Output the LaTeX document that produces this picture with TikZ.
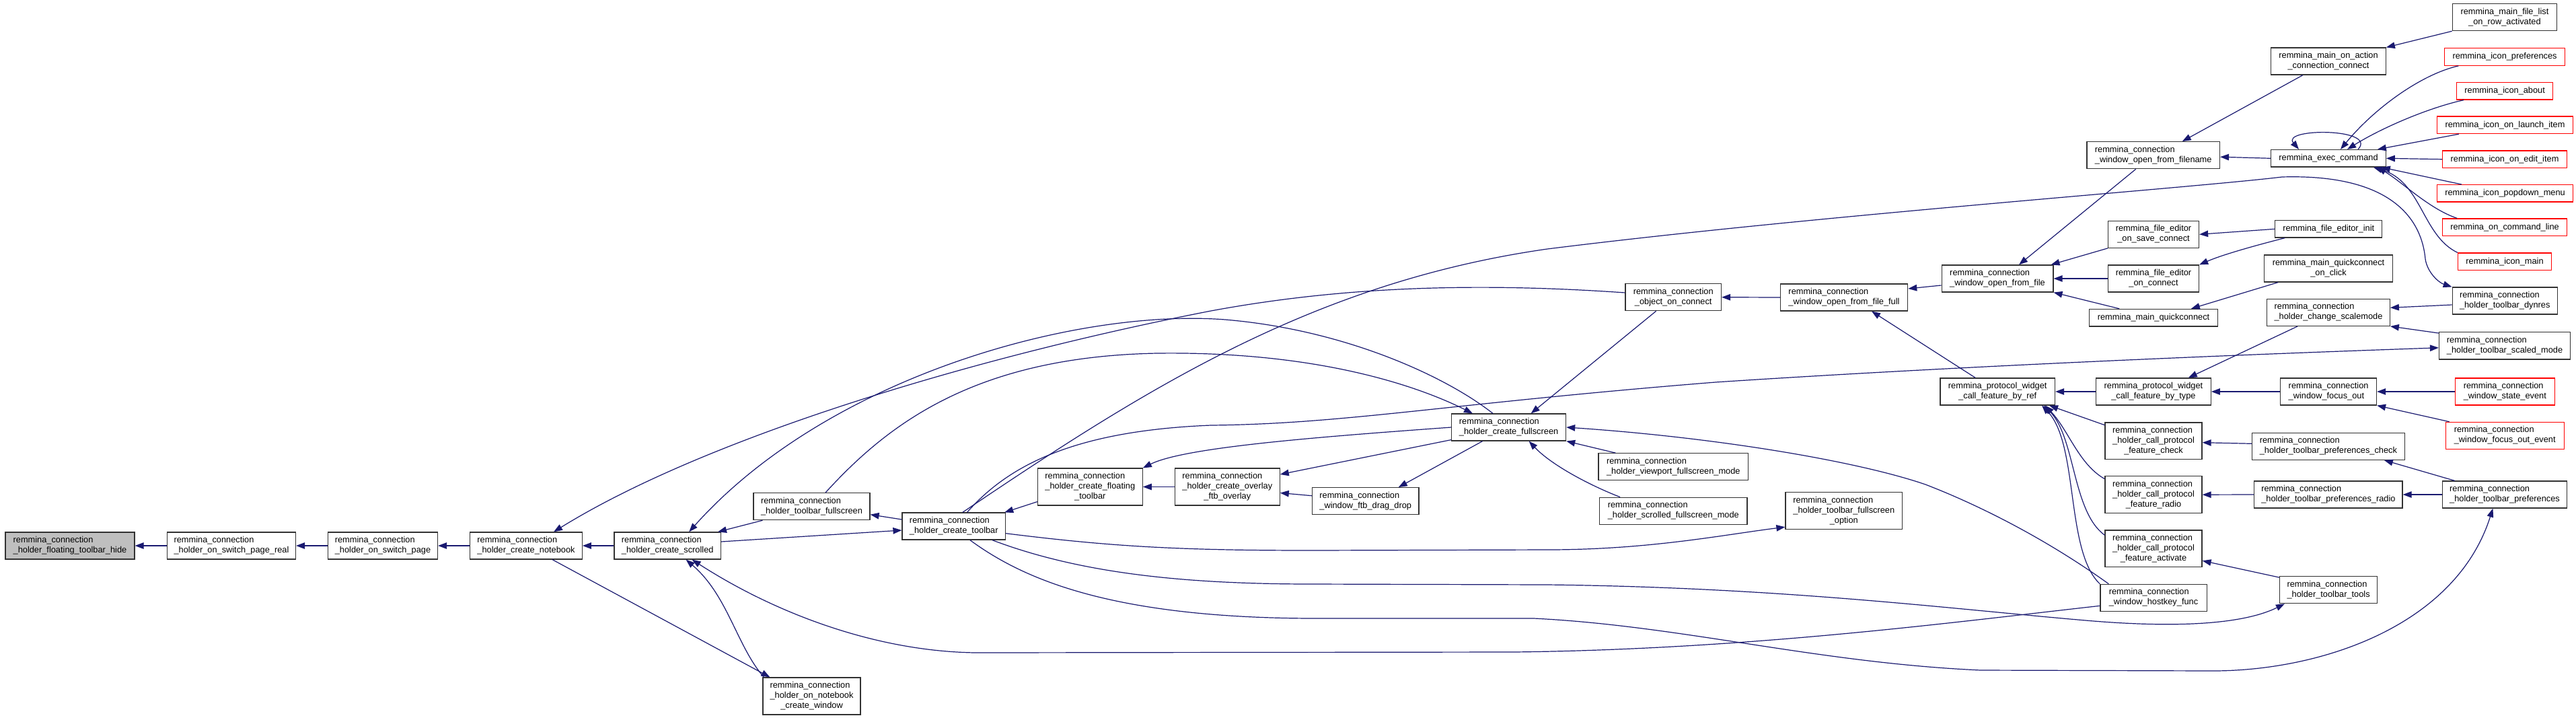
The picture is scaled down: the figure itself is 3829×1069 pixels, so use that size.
\documentclass[tikz,border=0pt]{standalone}
\usepackage{fontspec}
\setmainfont{Liberation Sans}
\usetikzlibrary{arrows.meta,calc}
\definecolor{edgecol}{RGB}{25,25,112}
\definecolor{nodeborder}{RGB}{50,50,50}
\definecolor{hidefill}{RGB}{191,191,191}
\newcommand{\nfont}{\fontsize{12.8pt}{15pt}\selectfont}
\newcommand{\lblL}[2]{\begin{tabular}{@{}l@{}}#1\\#2\end{tabular}}
\newcommand{\lblC}[2]{\begin{tabular}{@{}c@{}}#1\\#2\end{tabular}}
\newcommand{\lblLLC}[3]{\begin{tabular}{@{}l@{}}#1\\#2\\\multicolumn{1}{@{}c@{}}{#3}\end{tabular}}
\tikzset{
  nd/.style={draw=nodeborder, line width=1.2pt, fill=white, inner sep=0pt, font=\nfont, text=black},
  rnd/.style={nd, draw=red},
  cedge/.style={draw=edgecol, line width=1.2pt, -{Triangle[length=13pt,width=9.5pt]}},
}
\begin{document}
\begin{tikzpicture}[x=1pt,y=-1pt]
\useasboundingbox (0,0) rectangle (3829,1069);
\fill[white] (0,0) rectangle (3829,1069);

% ---------- nodes ----------
\node[nd, fill=hidefill, minimum width=192pt, minimum height=40pt] (hide) at (104,811) {\lblL{remmina\_connection}{\_holder\_floating\_toolbar\_hide}};
\node[nd, minimum width=191pt, minimum height=40pt] (real) at (344,811) {\lblL{remmina\_connection}{\_holder\_on\_switch\_page\_real}};
\node[nd, minimum width=163pt, minimum height=40pt] (sp) at (569,811) {\lblL{remmina\_connection}{\_holder\_on\_switch\_page}};
\node[nd, minimum width=166.5pt, minimum height=40pt] (nb) at (782,811) {\lblL{remmina\_connection}{\_holder\_create\_notebook}};
\node[nd, minimum width=158.4pt, minimum height=40pt] (cs) at (992.2,811) {\lblL{remmina\_connection}{\_holder\_create\_scrolled}};
\node[nd, minimum width=173pt, minimum height=40pt] (tf) at (1206.5,752.7) {\lblL{remmina\_connection}{\_holder\_toolbar\_fullscreen}};
\node[nd, minimum width=145pt, minimum height=55pt] (nbw) at (1206.5,1034.5) {\lblLLC{remmina\_connection}{\_holder\_on\_notebook}{\_create\_window}};
\node[nd, minimum width=153.6pt, minimum height=40pt] (ctb) at (1417.8,782) {\lblL{remmina\_connection}{\_holder\_create\_toolbar}};
\node[nd, minimum width=155.8pt, minimum height=55pt] (flt) at (1620.3,723.5) {\lblLLC{remmina\_connection}{\_holder\_create\_floating}{\_toolbar}};
\node[nd, minimum width=155.8pt, minimum height=55pt] (ovl) at (1824.3,723.5) {\lblLLC{remmina\_connection}{\_holder\_create\_overlay}{\_ftb\_overlay}};
\node[nd, minimum width=158.6pt, minimum height=40pt] (dd) at (2029.7,744.7) {\lblL{remmina\_connection}{\_window\_ftb\_drag\_drop}};
\node[nd, minimum width=170pt, minimum height=40pt] (cfs) at (2242.6,635) {\lblL{remmina\_connection}{\_holder\_create\_fullscreen}};
\node[nd, minimum width=142.5pt, minimum height=40pt] (ooc) at (2487.2,441.7) {\lblC{remmina\_connection}{\_object\_on\_connect}};
\node[nd, minimum width=222.7pt, minimum height=40pt] (vp) at (2487.3,693.7) {\lblL{remmina\_connection}{\_holder\_viewport\_fullscreen\_mode}};
\node[nd, minimum width=219.2pt, minimum height=40pt] (sfs) at (2487.3,759.3) {\lblL{remmina\_connection}{\_holder\_scrolled\_fullscreen\_mode}};
\node[nd, minimum width=173.7pt, minimum height=55pt] (fso) at (2740.8,759.2) {\lblLLC{remmina\_connection}{\_holder\_toolbar\_fullscreen}{\_option}};
\node[nd, minimum width=189.3pt, minimum height=40pt] (ofull) at (2741,442) {\lblL{remmina\_connection}{\_window\_open\_from\_file\_full}};
\node[nd, minimum width=165.8pt, minimum height=40pt] (of) at (2969,414) {\lblL{remmina\_connection}{\_window\_open\_from\_file}};
\node[nd, minimum width=170.5pt, minimum height=40pt] (byref) at (2969.2,582) {\lblC{remmina\_protocol\_widget}{\_call\_feature\_by\_ref}};
\node[nd, minimum width=197.5pt, minimum height=40pt] (ofn) at (3200.7,230.7) {\lblL{remmina\_connection}{\_window\_open\_from\_filename}};
\node[nd, minimum width=135pt, minimum height=40pt] (fes) at (3201,348.3) {\lblC{remmina\_file\_editor}{\_on\_save\_connect}};
\node[nd, minimum width=135pt, minimum height=40pt] (fec) at (3201,414) {\lblC{remmina\_file\_editor}{\_on\_connect}};
\node[nd, minimum width=190.5pt, minimum height=25.7pt] (mqc) at (3201,472.2) {remmina\_main\_quickconnect};
\node[nd, minimum width=170.6pt, minimum height=40pt] (bt) at (3200.9,582) {\lblC{remmina\_protocol\_widget}{\_call\_feature\_by\_type}};
\node[nd, minimum width=144pt, minimum height=54.7pt] (fc) at (3201,655.3) {\lblLLC{remmina\_connection}{\_holder\_call\_protocol}{\_feature\_check}};
\node[nd, minimum width=144pt, minimum height=54.7pt] (fr) at (3201,735.2) {\lblLLC{remmina\_connection}{\_holder\_call\_protocol}{\_feature\_radio}};
\node[nd, minimum width=144pt, minimum height=54.7pt] (fa) at (3201,815.3) {\lblLLC{remmina\_connection}{\_holder\_call\_protocol}{\_feature\_activate}};
\node[nd, minimum width=158.2pt, minimum height=40pt] (hk) at (3201,888.3) {\lblL{remmina\_connection}{\_window\_hostkey\_func}};
\node[nd, minimum width=170.5pt, minimum height=40pt] (moa) at (3461,91) {\lblC{remmina\_main\_on\_action}{\_connection\_connect}};
\node[nd, minimum width=170.5pt, minimum height=25.5pt] (exec) at (3461,235.3) {remmina\_exec\_command};
\node[nd, minimum width=159pt, minimum height=25.5pt] (fi) at (3461.2,340.3) {remmina\_file\_editor\_init};
\node[nd, minimum width=190.5pt, minimum height=40pt] (qoc) at (3461,399) {\lblC{remmina\_main\_quickconnect}{\_on\_click}};
\node[nd, minimum width=182.5pt, minimum height=40pt] (csm) at (3461,464.3) {\lblL{remmina\_connection}{\_holder\_change\_scalemode}};
\node[nd, minimum width=142.8pt, minimum height=40pt] (fo) at (3461.1,582) {\lblL{remmina\_connection}{\_window\_focus\_out}};
\node[nd, minimum width=226.6pt, minimum height=40pt] (pc) at (3460.9,663.3) {\lblL{remmina\_connection}{\_holder\_toolbar\_preferences\_check}};
\node[nd, minimum width=220.2pt, minimum height=40pt] (pr) at (3460.9,735) {\lblL{remmina\_connection}{\_holder\_toolbar\_preferences\_radio}};
\node[nd, minimum width=145.2pt, minimum height=40pt] (tt) at (3461.1,876.7) {\lblL{remmina\_connection}{\_holder\_toolbar\_tools}};
\node[nd, minimum width=155.3pt, minimum height=40pt] (fl) at (3722.9,25.7) {\lblC{remmina\_main\_file\_list}{\_on\_row\_activated}};
\node[rnd, minimum width=178.9pt, minimum height=26pt] (ip) at (3723,84.3) {remmina\_icon\_preferences};
\node[rnd, minimum width=142.8pt, minimum height=25.7pt] (ia) at (3723.1,135.2) {remmina\_icon\_about};
\node[rnd, minimum width=202pt, minimum height=25.7pt] (il) at (3723.5,185.8) {remmina\_icon\_on\_launch\_item};
\node[rnd, minimum width=184.5pt, minimum height=25.3pt] (ie) at (3723,236.7) {remmina\_icon\_on\_edit\_item};
\node[rnd, minimum width=202pt, minimum height=25.3pt] (ipd) at (3723.5,287.3) {remmina\_icon\_popdown\_menu};
\node[rnd, minimum width=184.5pt, minimum height=25.7pt] (cl) at (3723,337.8) {remmina\_on\_command\_line};
\node[rnd, minimum width=139.2pt, minimum height=25.7pt] (im) at (3723,388.8) {remmina\_icon\_main};
\node[nd, minimum width=156pt, minimum height=40pt] (dy) at (3723.2,447) {\lblL{remmina\_connection}{\_holder\_toolbar\_dynres}};
\node[nd, minimum width=195pt, minimum height=40.3pt] (sc) at (3723,513.8) {\lblL{remmina\_connection}{\_holder\_toolbar\_scaled\_mode}};
\node[rnd, minimum width=148pt, minimum height=40pt] (se) at (3723.3,582) {\lblL{remmina\_connection}{\_window\_state\_event}};
\node[rnd, minimum width=176pt, minimum height=40pt] (foe) at (3723.2,647.3) {\lblL{remmina\_connection}{\_window\_focus\_out\_event}};
\node[nd, minimum width=185.3pt, minimum height=40pt] (tp) at (3723,735) {\lblL{remmina\_connection}{\_holder\_toolbar\_preferences}};

% ---------- edges (caller -> callee, head at callee) ----------
\draw[cedge] (real.west) -- (hide.east);
\draw[cedge] (sp.west) -- (real.east);
\draw[cedge] (nb.west) -- (sp.east);
\draw[cedge] (cs.west) -- (nb.east);
\draw[cedge] ($(nb.south)+(39,0)$) -- ($(nbw.north)+(-62,0)$);
\draw[cedge] ($(nbw.north west)+(2,0)$) .. controls (1095,960) and (1082,885) .. ($(cs.south)+(27.4,0)$);
\draw[cedge] ($(tf.south)+(-73,0)$) -- ($(cs.north east)+(-5,0)$);
\draw[cedge] ($(ctb.west)+(0,-10)$) -- ($(tf.east)+(0,12)$);
\draw[cedge] ($(cs.east)+(0,-6)$) -- ($(ctb.west)+(0,6)$);
\draw[cedge] ($(flt.south west)+(0,-6)$) -- ($(ctb.north east)+(-2,0)$);
\draw[cedge] (ovl.west) -- (flt.east);
\draw[cedge] (cfs.west) .. controls (1950,650) and (1760,665) .. (flt.north east);
\draw[cedge] ($(cfs.south west)+(0,-2)$) -- ($(ovl.east)+(0,-18.5)$);
\draw[cedge] ($(dd.west)+(0,-8)$) -- ($(ovl.east)+(0,9)$);
\draw[cedge] ($(cfs.south)+(-39,0)$) -- ($(dd.north)+(49,0)$);
\draw[cedge] ($(vp.north west)+(26,0)$) -- (cfs.south east);
\draw[cedge] ($(sfs.north west)+(31,0)$) .. controls (2360,720) and (2305,690) .. ($(cfs.south)+(30,0)$);
\draw[cedge] ($(hk.north west)+(13,0)$) .. controls (3040,800) and (2940,750) .. (2862,720) .. controls (2760,685) and (2550,650) .. (cfs.east);
\draw[cedge] ($(ooc.south)+(-25.6,0)$) -- ($(cfs.north)+(33,0)$);
\draw[cedge] ($(cfs.north)+(-23.6,0)$) .. controls (2150,560) and (2000,490) .. (1821,475) .. controls (1600,458) and (1230,560) .. ($(cs.north)+(32,0)$);
\draw[cedge] ($(tf.north)+(20.5,0)$) .. controls (1320,630) and (1450,530) .. (1720,525) .. controls (1950,522) and (2100,570) .. ($(cfs.north west)+(32,0)$);
\draw[cedge] ($(ooc.west)+(0,-6.7)$) .. controls (2200,420) and (2000,425) .. (1800,462) .. controls (1450,530) and (1050,650) .. ($(nb.north)+(41,0)$);
\draw[cedge] ($(ctb.north)+(13,0)$) .. controls (1700,580) and (1950,420) .. (2300,370) .. controls (2700,320) and (3250,280) .. (3392,263) .. controls (3560,258) and (3600,330) .. (3605,385) .. controls (3608,405) and (3625,420) .. (dy.north west);
\draw[cedge] ($(ctb.north)+(19.7,0)$) .. controls (1500,690) and (1600,640) .. (1800,632) .. controls (2000,630) and (2150,600) .. (2550,568) .. controls (2900,545) and (3300,528) .. ($(sc.west)+(0,3)$);
\draw[cedge] ($(ctb.east)+(0,10.7)$) .. controls (1650,812) and (1750,818) .. (1950,818) -- (2300,817) .. controls (2450,817) and (2560,795) .. ($(fso.west)+(0,24)$);
\draw[cedge] ($(ctb.south)+(57,0)$) .. controls (1600,850) and (1750,868) .. (1950,868) -- (2300,869) .. controls (2650,873) and (2900,905) .. (3100,922) .. controls (3250,935) and (3340,925) .. ($(tt.south west)+(8,0)$);
\draw[cedge] ($(ctb.south)+(24,0)$) .. controls (1520,860) and (1650,918) .. (1950,919) -- (2280,919) .. controls (2500,930) and (2700,985) .. (2944,996) -- (3289,997) .. controls (3450,997) and (3650,930) .. ($(tp.south)+(-17.6,0)$);
\draw[cedge] ($(hk.west)+(0,12)$) .. controls (2900,925) and (2600,965) .. (2250,969) -- (1450,970) .. controls (1300,968) and (1150,910) .. ($(cs.south)+(36.4,0)$);
\draw[cedge] (ofull.west) -- (ooc.east);
\draw[cedge] ($(of.west)+(0,10)$) -- ($(ofull.east)+(0,-13)$);
\draw[cedge] ($(byref.north)+(-33,0)$) -- ($(ofull.south)+(41,0)$);
\draw[cedge] ($(ofn.south)+(-26,0)$) -- ($(of.north)+(32,0)$);
\draw[cedge] (fes.south west) -- ($(of.north east)+(-4,0)$);
\draw[cedge] (fec.west) -- (of.east);
\draw[cedge] ($(mqc.north west)+(45,0)$) -- (of.south east);
\draw[cedge] (bt.west) -- (byref.east);
\draw[cedge] ($(fc.west)+(0,-23.6)$) -- ($(byref.south east)+(-9,0)$);
\draw[cedge] ($(fr.west)+(0,-23.5)$) .. controls (3090,690) and (3075,640) .. ($(byref.south east)+(-15,0)$);
\draw[cedge] ($(fa.west)+(0,-20)$) .. controls (3080,760) and (3085,650) .. ($(byref.south east)+(-17,0)$);
\draw[cedge] (hk.north west) .. controls (3070,820) and (3090,660) .. ($(byref.south east)+(-20,0)$);
\draw[cedge] (exec.west) -- ($(ofn.east)+(0,2.5)$);
\draw[cedge] ($(moa.south)+(-38,0)$) -- ($(ofn.north)+(43,0)$);
\draw[cedge] (fl.south west) -- (moa.north east);
\draw[cedge] ($(exec.north)+(44,0)$) .. controls (3535,190) and (3390,190) .. ($(exec.north)+(-44,0)$);
\draw[cedge] ($(ip.south west)+(21.4,0)$) .. controls (3600,110) and (3530,160) .. ($(exec.north)+(18,0)$);
\draw[cedge] ($(ia.south west)+(11,0)$) .. controls (3610,160) and (3540,190) .. ($(exec.north)+(28,0)$);
\draw[cedge] ($(il.south west)+(33,0)$) -- ($(exec.north east)+(-13,0)$);
\draw[cedge] (ie.west) -- (exec.east);
\draw[cedge] ($(ipd.north west)+(37,0)$) -- ($(exec.south east)+(-7,0)$);
\draw[cedge] ($(cl.north west)+(22,0)$) .. controls (3610,310) and (3570,270) .. ($(exec.south east)+(-13,0)$);
\draw[cedge] (im.north west) .. controls (3600,350) and (3600,270) .. ($(exec.south east)+(-19,0)$);
\draw[cedge] (fi.west) -- (fes.east);
\draw[cedge] ($(fi.south west)+(15,0)$) .. controls (3340,368) and (3300,380) .. (fec.north east);
\draw[cedge] ($(qoc.south west)+(21,0)$) -- ($(mqc.north east)+(-40,0)$);
\draw[cedge] ($(dy.west)+(0,6)$) -- ($(csm.east)+(0,-7)$);
\draw[cedge] ($(sc.north west)+(0,2)$) -- (csm.south east);
\draw[cedge] ($(csm.south west)+(46,0)$) -- ($(bt.north east)+(-34,0)$);
\draw[cedge] (fo.west) -- (bt.east);
\draw[cedge] (se.west) -- (fo.east);
\draw[cedge] ($(foe.north west)+(6,0)$) -- (fo.south east);
\draw[cedge] ($(pc.west)+(0,-4)$) -- ($(fc.east)+(0,2.4)$);
\draw[cedge] ($(tp.north west)+(19,0)$) -- ($(pc.south east)+(-31,0)$);
\draw[cedge] (pr.west) -- (fr.east);
\draw[cedge] (tp.west) -- (pr.east);
\draw[cedge] ($(tt.north west)+(0,2)$) -- ($(fa.east)+(0,18)$);
\end{tikzpicture}
\end{document}
